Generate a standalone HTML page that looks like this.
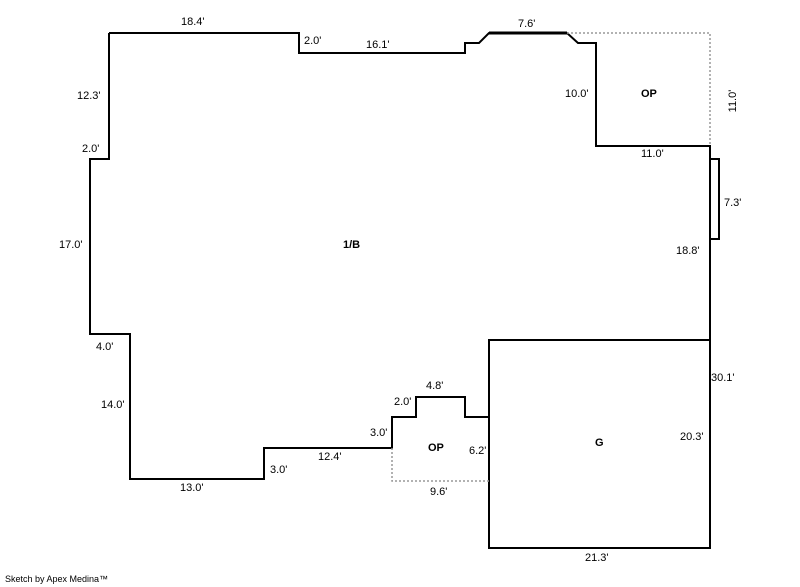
<!DOCTYPE html>
<html><head><style>body{margin:0;background:#fff}svg{display:block}text{font-family:"Liberation Sans",sans-serif;font-size:11px;fill:#000}</style></head><body>
<svg width="800" height="587" viewBox="0 0 800 587">
<g fill="none" stroke="#000" stroke-width="2">
<polyline points="109,33 299,33 299,53 465,53 465,43 479,43 489,33 567,33 578,43 596,43 596,146 710,146 710,340"/>
<polyline points="489,417 465,417 465,397 416,397 416,417 392,417 392,448 264,448 264,479 130,479 130,334 90,334 90,159 109,159 109,33"/>
<rect x="489" y="340" width="221" height="208"/>
<rect x="710" y="159" width="9" height="80"/>
</g>
<line x1="489" y1="33" x2="567" y2="33" stroke="#000" stroke-width="3"/>
<g fill="none" stroke="#999" stroke-width="1.5" stroke-dasharray="2,2">
<polyline points="567,33 710,33 710,146"/>
<polyline points="392,448 392,481 489,481"/>
</g>
<text x="181" y="25">18.4'</text>
<text x="304" y="44">2.0'</text>
<text x="366" y="48">16.1'</text>
<text x="518" y="27">7.6'</text>
<text x="77" y="99">12.3'</text>
<text x="82" y="152">2.0'</text>
<text x="565" y="97">10.0'</text>
<text x="641" y="97" font-weight="bold">OP</text>
<text x="736" y="101" transform="rotate(-90 736 101)" text-anchor="middle">11.0'</text>
<text x="641" y="157">11.0'</text>
<text x="724" y="206">7.3'</text>
<text x="59" y="248">17.0'</text>
<text x="343" y="248" font-weight="bold">1/B</text>
<text x="676" y="254">18.8'</text>
<text x="96" y="350">4.0'</text>
<text x="711" y="381">30.1'</text>
<text x="426" y="389">4.8'</text>
<text x="394" y="405">2.0'</text>
<text x="101" y="408">14.0'</text>
<text x="370" y="436">3.0'</text>
<text x="680" y="440">20.3'</text>
<text x="595" y="446" font-weight="bold">G</text>
<text x="428" y="451" font-weight="bold">OP</text>
<text x="469" y="454">6.2'</text>
<text x="318" y="460">12.4'</text>
<text x="270" y="473">3.0'</text>
<text x="180" y="491">13.0'</text>
<text x="430" y="495">9.6'</text>
<text x="585" y="561">21.3'</text>
<text x="5" y="582" style="font-size:9px">Sketch by Apex Medina™</text>
</svg>
</body></html>
